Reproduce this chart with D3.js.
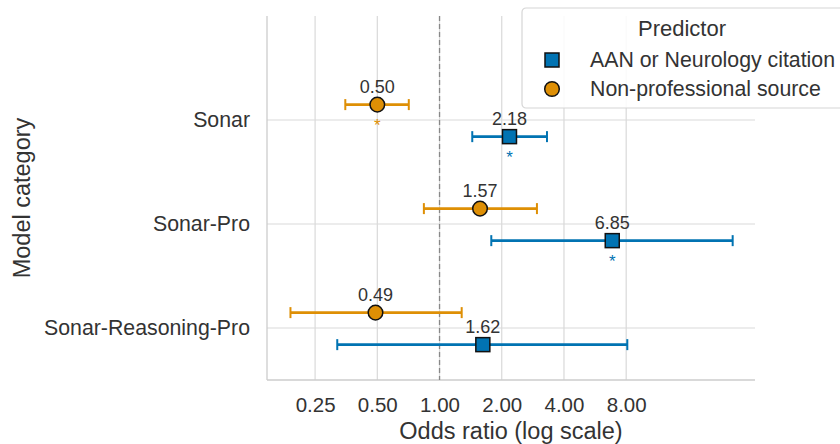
<!DOCTYPE html>
<html>
<head>
<meta charset="utf-8">
<script src="https://cdn.jsdelivr.net/npm/d3@7/dist/d3.min.js"></script>
<style>
  body { margin: 0; background: #fff; }
  svg { font-family: "Liberation Sans", Arial, sans-serif; }
</style>
</head>
<body>
<svg id="chart" width="840" height="444"></svg>
<script>
// Data
const categories = ["Sonar", "Sonar-Pro", "Sonar-Reasoning-Pro"];
const predictors = ["AAN or Neurology citation", "Non-professional source"];

// AAN or Neurology citation
const aanOR   = [2.18, 6.85, 1.62];
const aanLow  = [1.44, 1.78, 0.32];
const aanHigh = [3.31, 26.2, 8.1];
const aanSig  = [true, true, false];

// Non-professional source
const nonOR   = [0.50, 1.57, 0.49];
const nonLow  = [0.35, 0.84, 0.19];
const nonHigh = [0.71, 2.96, 1.28];
const nonSig  = [true, false, false];

const xTicks = [0.25, 0.5, 1, 2, 4, 8];

const colors = { aan: "#0173b2", non: "#de8f05" };

// Layout
const svg = d3.select("#chart");
const margin = { left: 267, right: 85, top: 16, bottom: 64 };
const W = 840, H = 444;
const ink = "#333";

const x = d3.scaleLog()
    .domain([0.1463, 33.6])
    .range([margin.left, W - margin.right]);

const y = d3.scaleLinear()
    .domain([-1, 2.5])
    .range([margin.top, H - margin.bottom]);

const grid = "#d9d9d9";

// Gridlines
svg.append("g").selectAll("line")
    .data(xTicks)
    .join("line")
    .attr("x1", d => x(d)).attr("x2", d => x(d))
    .attr("y1", margin.top).attr("y2", H - margin.bottom)
    .attr("stroke", grid).attr("stroke-width", 1.2);

svg.append("g").selectAll("line")
    .data(categories)
    .join("line")
    .attr("x1", margin.left).attr("x2", W - margin.right)
    .attr("y1", (d, i) => y(i)).attr("y2", (d, i) => y(i))
    .attr("stroke", grid).attr("stroke-width", 1.2);

// Spines (left + bottom)
svg.append("line")
    .attr("x1", margin.left).attr("x2", margin.left)
    .attr("y1", margin.top).attr("y2", H - margin.bottom)
    .attr("stroke", "#cccccc").attr("stroke-width", 1.3);
svg.append("line")
    .attr("x1", margin.left).attr("x2", W - margin.right)
    .attr("y1", H - margin.bottom).attr("y2", H - margin.bottom)
    .attr("stroke", "#cccccc").attr("stroke-width", 1.3);

// Reference line at OR = 1
svg.append("line")
    .attr("x1", x(1)).attr("x2", x(1))
    .attr("y1", margin.top).attr("y2", H - margin.bottom)
    .attr("stroke", "#888").attr("stroke-width", 1.3)
    .attr("stroke-dasharray", "5,3");

// X axis
const gx = svg.append("g")
    .attr("transform", `translate(0,${H - margin.bottom})`)
    .call(d3.axisBottom(x)
        .tickValues(xTicks)
        .tickFormat(d3.format(".2f"))
        .tickSize(0)
        .tickPadding(17));
gx.select(".domain").remove();
gx.selectAll("text")
    .attr("font-size", 20.5)
    .attr("fill", ink)
    .attr("font-family", "Liberation Sans, Arial, sans-serif");

// Y axis
const gy = svg.append("g")
    .attr("transform", `translate(${margin.left},0)`)
    .call(d3.axisLeft(y).tickValues([0, 1, 2]).tickFormat(i => categories[i]).tickSize(0).tickPadding(17));
gy.select(".domain").remove();
gy.selectAll("text")
    .attr("font-size", 21.3)
    .attr("fill", ink)
    .attr("font-family", "Liberation Sans, Arial, sans-serif");

// Axis titles
svg.append("text")
    .attr("x", 511)
    .attr("y", 439)
    .attr("text-anchor", "middle")
    .attr("font-size", 23.5)
    .attr("fill", ink)
    .text("Odds ratio (log scale)");

svg.append("text")
    .attr("transform", `translate(30,${(margin.top + H - margin.bottom) / 2}) rotate(-90)`)
    .attr("text-anchor", "middle")
    .attr("font-size", 23.5)
    .attr("fill", ink)
    .text("Model category");

// Series
const series = [
    { key: "non", or: nonOR, lo: nonLow, hi: nonHigh, sig: nonSig, off: -0.148, shape: "circle" },
    { key: "aan", or: aanOR, lo: aanLow, hi: aanHigh, sig: aanSig, off: 0.16, shape: "square" }
];

const capH = 5.5;

series.forEach(s => {
    const rows = categories.map((c, i) => ({
        i, or: s.or[i], lo: s.lo[i], hi: s.hi[i], sig: s.sig[i], yy: y(i + s.off)
    }));
    const g = svg.append("g");
    const col = colors[s.key];

    g.selectAll("line.err")
        .data(rows).join("line")
        .attr("class", "err")
        .attr("x1", d => x(d.lo)).attr("x2", d => x(d.hi))
        .attr("y1", d => d.yy).attr("y2", d => d.yy)
        .attr("stroke", col).attr("stroke-width", 2.8);

    ["lo", "hi"].forEach(k => {
        g.selectAll("line.cap-" + k)
            .data(rows).join("line")
            .attr("class", "cap-" + k)
            .attr("x1", d => x(d[k])).attr("x2", d => x(d[k]))
            .attr("y1", d => d.yy - capH).attr("y2", d => d.yy + capH)
            .attr("stroke", col).attr("stroke-width", 2);
    });

    if (s.shape === "circle") {
        g.selectAll("circle")
            .data(rows).join("circle")
            .attr("cx", d => x(d.or)).attr("cy", d => d.yy)
            .attr("r", 7.3)
            .attr("fill", col).attr("stroke", "#111").attr("stroke-width", 1.5);
    } else {
        g.selectAll("rect")
            .data(rows).join("rect")
            .attr("x", d => x(d.or) - 7).attr("y", d => d.yy - 7)
            .attr("width", 14).attr("height", 14)
            .attr("fill", col).attr("stroke", "#111").attr("stroke-width", 1.5);
    }

    g.selectAll("text.val")
        .data(rows).join("text")
        .attr("class", "val")
        .attr("x", d => x(d.or)).attr("y", d => d.yy - 12)
        .attr("text-anchor", "middle")
        .attr("font-size", 18)
        .attr("fill", ink)
        .text(d => d.or.toFixed(2));

    g.selectAll("text.sig")
        .data(rows.filter(d => d.sig)).join("text")
        .attr("class", "sig")
        .attr("x", d => x(d.or)).attr("y", d => d.yy + 26)
        .attr("text-anchor", "middle")
        .attr("font-size", 17)
        .attr("fill", col)
        .text("*");
});

// Legend
const lg = svg.append("g").attr("transform", "translate(522,8)");
lg.append("rect")
    .attr("width", 330).attr("height", 100)
    .attr("rx", 4)
    .attr("fill", "#fff").attr("fill-opacity", 0.85)
    .attr("stroke", "#d6d6d6").attr("stroke-width", 1.2);
lg.append("text")
    .attr("x", 160).attr("y", 28)
    .attr("text-anchor", "middle")
    .attr("font-size", 22)
    .attr("fill", ink)
    .text("Predictor");

const legItems = [
    { label: predictors[0], key: "aan", shape: "square" },
    { label: predictors[1], key: "non", shape: "circle" }
];
legItems.forEach((it, i) => {
    const yy = 52 + i * 29;
    if (it.shape === "square") {
        lg.append("rect")
            .attr("x", 30 - 7).attr("y", yy - 7)
            .attr("width", 14).attr("height", 14)
            .attr("fill", colors[it.key]).attr("stroke", "#111").attr("stroke-width", 1.5);
    } else {
        lg.append("circle")
            .attr("cx", 30).attr("cy", yy).attr("r", 7.3)
            .attr("fill", colors[it.key]).attr("stroke", "#111").attr("stroke-width", 1.5);
    }
    lg.append("text")
        .attr("x", 68).attr("y", yy + 7)
        .attr("font-size", 21.3)
        .attr("fill", ink)
        .text(it.label);
});
</script>
</body>
</html>
